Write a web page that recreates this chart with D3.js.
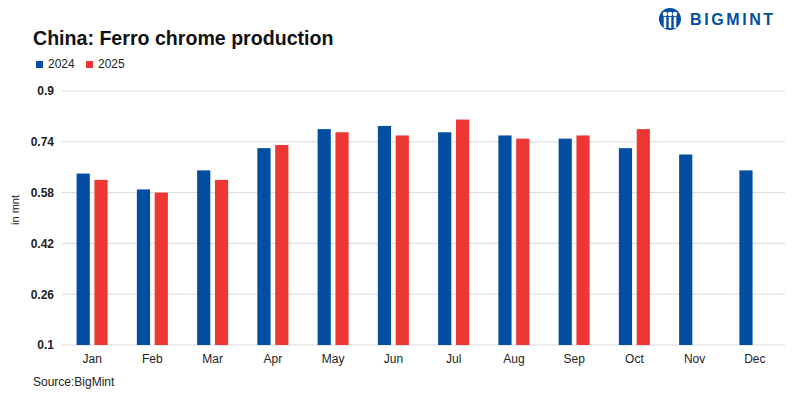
<!DOCTYPE html>
<html>
<head>
<meta charset="utf-8">
<script src="https://cdn.jsdelivr.net/npm/d3@7"></script>
<style>
  body { margin: 0; background: #fff; }
  svg { font-family: "Liberation Sans", Arial, sans-serif; }
</style>
</head>
<body>
<svg width="800" height="399"></svg>
<script>
var months = ["Jan", "Feb", "Mar", "Apr", "May", "Jun", "Jul", "Aug", "Sep", "Oct", "Nov", "Dec"];
var years = ["2024", "2025"];
var values2024 = [0.64, 0.59, 0.65, 0.72, 0.78, 0.79, 0.77, 0.76, 0.75, 0.72, 0.70, 0.65];
var values2025 = [0.62, 0.58, 0.62, 0.73, 0.77, 0.76, 0.81, 0.75, 0.76, 0.78, null, null];
var yTicks = [0.1, 0.26, 0.42, 0.58, 0.74, 0.9];

var colors = { "2024": "#034ea2", "2025": "#ee3733" };

var svg = d3.select("svg"),
  margin = { top: 91, right: 15, bottom: 54, left: 62 },
  width = +svg.attr("width") - margin.left - margin.right,
  height = +svg.attr("height") - margin.top - margin.bottom;

var data = months.map(function (m, i) {
  return { month: m, "2024": values2024[i], "2025": values2025[i] };
});

var x0 = d3.scaleBand()
  .domain(months)
  .range([0, width])
  .paddingInner(0.485)
  .paddingOuter(0.2425);

var x1 = d3.scaleBand()
  .domain(years)
  .range([0, x0.bandwidth()])
  .paddingInner(0.26)
  .paddingOuter(0);

var y = d3.scaleLinear()
  .domain([0.1, 0.9])
  .range([height, 0]);

var g = svg.append("g")
  .attr("transform", "translate(" + margin.left + "," + margin.top + ")");

// gridlines
g.append("g")
  .selectAll("line")
  .data(yTicks)
  .enter().append("line")
  .attr("x1", 0)
  .attr("x2", width)
  .attr("y1", function (d) { return y(d); })
  .attr("y2", function (d) { return y(d); })
  .attr("stroke", "#d9d9d9")
  .attr("stroke-width", 1);

// y axis labels
var yAxis = g.append("g")
  .call(d3.axisLeft(y).tickValues(yTicks).tickSize(0).tickPadding(8)
    .tickFormat(function (d) { return String(+d.toFixed(2)); }));
yAxis.select(".domain").remove();
yAxis.selectAll("text")
  .attr("font-family", "Liberation Sans, Arial, sans-serif")
  .attr("font-size", 12)
  .attr("font-weight", "bold")
  .attr("fill", "#222");

// x axis labels
var xAxis = g.append("g")
  .attr("transform", "translate(0," + height + ")")
  .call(d3.axisBottom(x0).tickSize(0).tickPadding(9));
xAxis.select(".domain").remove();
xAxis.selectAll("text")
  .attr("font-family", "Liberation Sans, Arial, sans-serif")
  .attr("font-size", 12)
  .attr("fill", "#222");

// bars
var group = g.append("g")
  .selectAll("g")
  .data(data)
  .enter().append("g")
  .attr("transform", function (d) { return "translate(" + x0(d.month) + ",0)"; });

group.selectAll("rect")
  .data(function (d) {
    return years.filter(function (k) { return d[k] != null; })
      .map(function (k) { return { key: k, value: d[k] }; });
  })
  .enter().append("rect")
  .attr("x", function (d) { return x1(d.key); })
  .attr("y", function (d) { return y(d.value); })
  .attr("width", x1.bandwidth())
  .attr("height", function (d) { return height - y(d.value); })
  .attr("fill", function (d) { return colors[d.key]; });

// axis title
svg.append("text")
  .attr("transform", "translate(19," + (margin.top + height / 2 - 8) + ") rotate(-90)")
  .attr("text-anchor", "middle")
  .attr("font-size", 11)
  .attr("fill", "#222")
  .text("in mnt");

// title
svg.append("text")
  .attr("x", 33)
  .attr("y", 45)
  .attr("font-size", 19.6)
  .attr("font-weight", "bold")
  .attr("fill", "#111")
  .text("China: Ferro chrome production");

// legend
var legend = svg.append("g")
  .selectAll("g")
  .data(years)
  .enter().append("g")
  .attr("transform", function (d, i) { return "translate(" + (36 + i * 50) + ",61)"; });

legend.append("rect")
  .attr("width", 7)
  .attr("height", 7)
  .attr("fill", function (d) { return colors[d]; });

legend.append("text")
  .attr("x", 12)
  .attr("y", 7)
  .attr("font-size", 12)
  .attr("fill", "#222")
  .text(function (d) { return d; });

// source
svg.append("text")
  .attr("x", 33)
  .attr("y", 386)
  .attr("font-size", 12)
  .attr("fill", "#222")
  .text("Source:BigMint");

// logo
var logo = svg.append("g").attr("transform", "translate(670,19)");
logo.append("circle").attr("r", 11).attr("fill", "#034ea2");
[-5, 0, 5].forEach(function (dx) {
  logo.append("circle").attr("cx", dx).attr("cy", -5).attr("r", 2.3).attr("fill", "#fff");
  logo.append("rect").attr("x", dx - 1.3).attr("y", -2).attr("width", 2.6).attr("height", 11).attr("fill", "#fff");
});
svg.append("text")
  .attr("x", 690)
  .attr("y", 25)
  .attr("font-size", 16)
  .attr("font-weight", "bold")
  .attr("letter-spacing", 2.6)
  .attr("fill", "#034ea2")
  .text("BIGMINT");
</script>
</body>
</html>
